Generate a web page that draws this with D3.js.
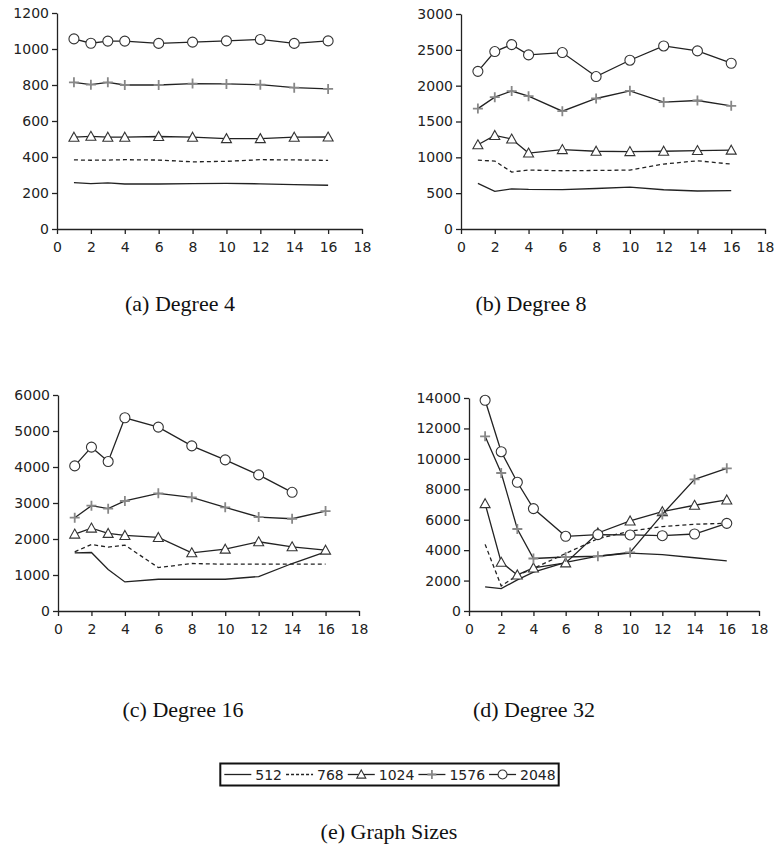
<!DOCTYPE html>
<html>
<head>
<meta charset="utf-8">
<script src="https://cdn.jsdelivr.net/npm/d3@7"></script>
<style>
    body { margin: 0; background: #fff; }
    svg { display: block; font-family: "DejaVu Sans", sans-serif; }
    .axis path, .axis line { stroke: #222; stroke-width: 1.3px; }
    .axis text { fill: #222; }
    .caption { font-family: "Liberation Serif", serif; font-size: 22px; fill: #111; }
    .series { fill: none; stroke: #222; stroke-width: 1.3px; }
</style>
</head>
<body>
<svg id="chart" width="774" height="848"></svg>
<script>
// x positions shared by every panel
const xVals = [1, 2, 3, 4, 6, 8, 10, 12, 14, 16];
const xTicks = [0, 2, 4, 6, 8, 10, 12, 14, 16, 18];
const sizes = ["512", "768", "1024", "1576", "2048"];

// one row per graph size (512, 768, 1024, 1576, 2048)
const deg4 = [
    [258, 252, 256, 250, 250, 252, 253, 251, 246, 243],
    [384, 382, 383, 385, 383, 373, 376, 385, 384, 381],
    [510, 515, 510, 510, 514, 510, 502, 502, 510, 511],
    [815, 802, 815, 800, 800, 808, 806, 802, 785, 778],
    [1056, 1032, 1044, 1044, 1031, 1038, 1045, 1053, 1031, 1045]
];
const deg8 = [
    [636, 525, 560, 553, 550, 565, 585, 548, 530, 535],
    [960, 948, 795, 822, 813, 817, 822, 906, 952, 906],
    [1175, 1305, 1255, 1060, 1108, 1085, 1080, 1085, 1095, 1100],
    [1680, 1840, 1925, 1853, 1644, 1821, 1928, 1770, 1793, 1719],
    [2200, 2476, 2573, 2429, 2462, 2127, 2355, 2554, 2485, 2313]
];
const deg16 = [
    [1616, 1625, 1152, 808, 882, 882, 882, 957, 1319, 1644],
    [1644, 1848, 1774, 1830, 1207, 1319, 1300, 1300, 1300, 1300],
    [2136, 2303, 2155, 2099, 2043, 1616, 1718, 1923, 1783, 1690],
    [2591, 2926, 2842, 3056, 3269, 3158, 2879, 2610, 2563, 2777],
    [4031, 4551, 4152, 5368, 5108, 4588, 4198, 3780, 3297, null]
];
const deg32 = [
    [1580, 1470, 2050, 2550, 3200, 3600, 3800, 3700, 3500, 3290],
    [4380, 1650, 2340, 2800, 3780, 4750, 5250, 5550, 5700, 5770],
    [7055, 3200, 2370, 2830, 3160, 5130, 5920, 6530, 6950, 7300],
    [11480, 9070, 5390, 3450, 3550, 3600, 3850, 6350, 8650, 9380],
    [13850, 10470, 8460, 6730, 4910, 5020, 5000, 4950, 5060, 5760]
];

const panels = [
    {rows: deg4, yMax: 1200, yStep: 200, left: 57, right: 362, top: 13, bottom: 229, caption: "(a) Degree 4", capX: 180, capY: 311},
    {rows: deg8, yMax: 3000, yStep: 500, left: 461, right: 765, top: 14, bottom: 229, caption: "(b) Degree 8", capX: 531, capY: 311},
    {rows: deg16, yMax: 6000, yStep: 1000, left: 58, right: 359, top: 395, bottom: 611, caption: "(c) Degree 16", capX: 183, capY: 717},
    {rows: deg32, yMax: 14000, yStep: 2000, left: 469, right: 759, top: 398, bottom: 611, caption: "(d) Degree 32", capX: 534, capY: 717}
];

const svg = d3.select("#chart");

// marker for a series index, drawn at (0,0)
function drawMarker(sel, i, s) {
    s = s || 1;
    if (i === 2) {
        sel.append("path").attr("d", "M0,-5L5,4L-5,4Z").attr("transform", "scale(" + s + ")")
            .attr("fill", "#fff").attr("stroke", "#333").attr("stroke-width", 1.1 / s);
    } else if (i === 3) {
        sel.append("path").attr("d", "M-5,0H5M0,-5V5").attr("transform", "scale(" + s + ")")
            .attr("fill", "none").attr("stroke", "#888").attr("stroke-width", 1.8 / s);
    } else if (i === 4) {
        sel.append("circle").attr("r", 5 * s)
            .attr("fill", "#fff").attr("stroke", "#333").attr("stroke-width", 1.1);
    }
}

panels.forEach(p => {
    let x = d3.scaleLinear().domain([0, 18]).range([p.left, p.right]);
    let y = d3.scaleLinear().domain([0, p.yMax]).range([p.bottom, p.top]);
    let g = svg.append("g");

    g.append("g").attr("class", "axis")
        .attr("transform", "translate(0," + p.bottom + ")")
        .call(d3.axisBottom(x).tickValues(xTicks).tickSize(5).tickSizeOuter(0).tickPadding(8).tickFormat(d3.format("d")))
        .attr("font-size", 14).attr("font-family", null);

    g.append("g").attr("class", "axis")
        .attr("transform", "translate(" + p.left + ",0)")
        .call(d3.axisLeft(y).tickValues(d3.range(0, p.yMax + 1, p.yStep)).tickSize(5).tickSizeOuter(0).tickPadding(3).tickFormat(d3.format("d")))
        .attr("font-size", 14).attr("font-family", null);

    let line = d3.line()
        .defined(d => d[1] !== null)
        .x(d => x(d[0]))
        .y(d => y(d[1]));

    p.rows.forEach((vals, i) => {
        let pts = xVals.map((xv, j) => [xv, vals[j]]);
        g.append("path")
            .datum(pts)
            .attr("class", "series")
            .attr("stroke-dasharray", i === 1 ? "4,3" : null)
            .attr("d", line);

        pts.filter(d => d[1] !== null).forEach(d => {
            let m = g.append("g").attr("transform", "translate(" + x(d[0]) + "," + y(d[1]) + ")");
            drawMarker(m, i);
        });
    });

    g.append("text").attr("class", "caption")
        .attr("x", p.capX).attr("y", p.capY)
        .attr("text-anchor", "middle")
        .text(p.caption);
});

// legend
let legend = svg.append("g");
let ly = 774.5, lx = 0, sampleW = 27, gap = 4;
sizes.forEach((s, i) => {
    legend.append("line")
        .attr("x1", lx).attr("x2", lx + sampleW)
        .attr("y1", ly).attr("y2", ly)
        .attr("stroke", "#222").attr("stroke-width", 1.3)
        .attr("stroke-dasharray", i === 1 ? "3,2" : null);
    drawMarker(legend.append("g").attr("transform", "translate(" + (lx + sampleW / 2) + "," + ly + ")"), i, 0.9);
    lx += sampleW + gap;
    let t = legend.append("text")
        .attr("x", lx).attr("y", ly + 5)
        .attr("font-size", 14).attr("fill", "#222")
        .text(s);
    lx += t.node().getComputedTextLength() + gap;
});
let legendW = lx - gap;
legend.insert("rect", ":first-child")
    .attr("x", -4).attr("y", 763.5)
    .attr("width", legendW + 7).attr("height", 22)
    .attr("fill", "#fff").attr("stroke", "#111").attr("stroke-width", 2);
legend.attr("transform", "translate(" + (390 - legendW / 2) + ",0)");

svg.append("text").attr("class", "caption")
    .attr("x", 389).attr("y", 839)
    .attr("text-anchor", "middle")
    .text("(e) Graph Sizes");
</script>
</body>
</html>
